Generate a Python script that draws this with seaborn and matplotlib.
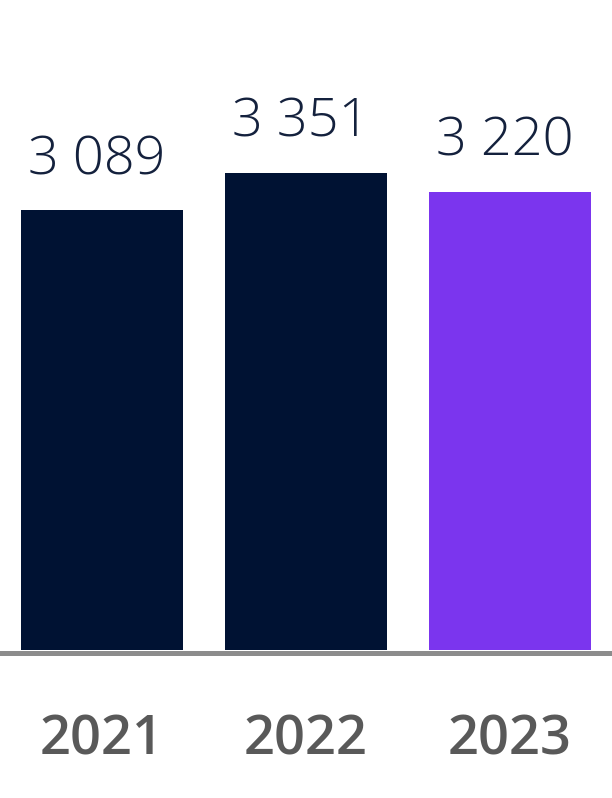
import seaborn as sns
import matplotlib.pyplot as plt
import pandas as pd

years = ["2021", "2022", "2023"]
values = [3089, 3351, 3220]
labels = ["3 089", "3 351", "3 220"]
colors = ["#001233", "#001233", "#7b35ee"]

sns.set_style("white")
plt.rcParams["font.family"] = ["Open Sans", "DejaVu Sans"]

df = pd.DataFrame({"year": years, "value": values})

fig = plt.figure(figsize=(6.12, 7.98), dpi=100)
ax = fig.add_axes([0, 148 / 798, 1, 650 / 798])

sns.barplot(data=df, x="year", y="value", hue="year", palette=colors,
            width=0.795, linewidth=0, saturation=1, legend=False, ax=ax)

ax.set_xlim(-0.5, 2.5)
ax.set_ylim(0, 4565)

for i, (v, lab) in enumerate(zip(values, labels)):
    ax.annotate(lab, xy=(i, v), xytext=(-4, 26), textcoords="offset points",
                ha="center", va="baseline", fontsize=39, fontweight="light",
                color="#14213d")
    ax.annotate(years[i], xy=(i, 0), xycoords=("data", "axes fraction"),
                xytext=(0, -75), textcoords="offset points",
                ha="center", va="baseline", fontsize=39, fontweight="semibold",
                color="#595959")

for s in ["top", "left", "right"]:
    ax.spines[s].set_visible(False)
ax.spines["bottom"].set_color("#8c8c8c")
ax.spines["bottom"].set_linewidth(3.6)
ax.spines["bottom"].set_position(("outward", 2.2))
ax.set_xticks([])
ax.set_yticks([])
ax.set_xlabel("")
ax.set_ylabel("")

fig.savefig("out.png", dpi=100)
